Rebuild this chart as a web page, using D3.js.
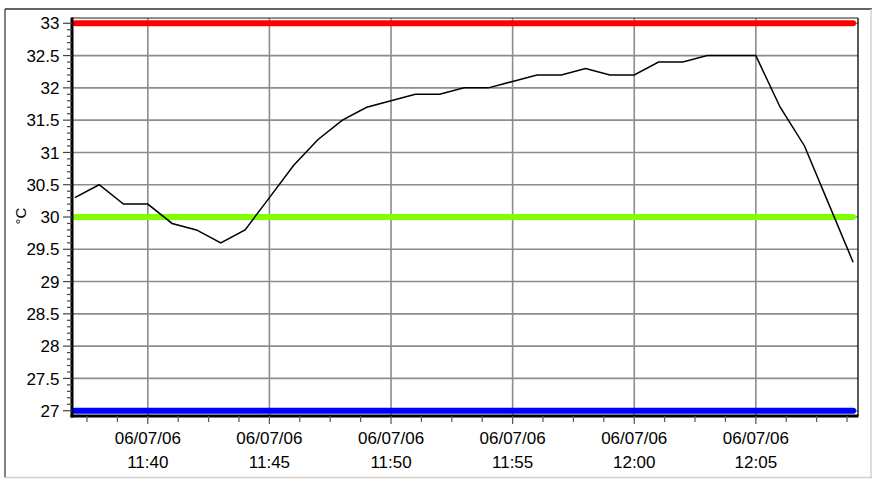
<!DOCTYPE html>
<html><head><meta charset="utf-8">
<script src="https://cdn.jsdelivr.net/npm/d3@7"></script>
<style>html,body{margin:0;padding:0;background:#fff;} svg{display:block;}</style>
</head><body><svg id="chart" width="875" height="479"></svg>
<script>
// ---------- data ----------
const times = ["11:37","11:38","11:39","11:40","11:41","11:42","11:43","11:44","11:45","11:46",
  "11:47","11:48","11:49","11:50","11:51","11:52","11:53","11:54","11:55","11:56",
  "11:57","11:58","11:59","12:00","12:01","12:02","12:03","12:04","12:05","12:06",
  "12:07","12:08","12:09"];
const temps = [30.3,30.5,30.2,30.2,29.9,29.8,29.6,29.8,30.3,30.8,
  31.2,31.5,31.7,31.8,31.9,31.9,32.0,32.0,32.1,32.2,
  32.2,32.3,32.2,32.2,32.4,32.4,32.5,32.5,32.5,31.7,
  31.1,30.2,29.3];
const limitValues = [33, 30, 27];
const yTickValues = [27, 27.5, 28, 28.5, 29, 29.5, 30, 30.5, 31, 31.5, 32, 32.5, 33];
const yTickLabels = ["27","27.5","28","28.5","29","29.5","30","30.5","31","31.5","32","32.5","33"];
const xTickTimes = ["11:40","11:45","11:50","11:55","12:00","12:05"];
const xTickDate = "06/07/06";
const yLabel = "°C";
const xDomainTimes = ["11:36:53","12:09:12"];
const yDomain = [26.918, 33.082];

// ---------- layout ----------
const svg = d3.select("#chart");
const W = 875, H = 479;
const plot = {left: 72, right: 858, top: 18, bottom: 416};
const font = "'Liberation Sans', Arial, Helvetica, sans-serif";

const parseHMS = d3.timeParse("%H:%M:%S");
const parseHM = d3.timeParse("%H:%M");
const parseT = s => (s.length > 5 ? parseHMS(s) : parseHM(s));

const x = d3.scaleTime().domain(xDomainTimes.map(parseT)).range([plot.left, plot.right]);
const y = d3.scaleLinear().domain(yDomain).range([plot.bottom, plot.top]);

svg.append("rect").attr("width", W).attr("height", H).attr("fill", "#fff");

// outer frame
svg.append("line").attr("x1", 5).attr("x2", 872).attr("y1", 9).attr("y2", 9).attr("stroke", "#303030").attr("stroke-width", 1.5);
svg.append("line").attr("x1", 5).attr("x2", 5).attr("y1", 9).attr("y2", 477.5).attr("stroke", "#303030").attr("stroke-width", 1.2);
svg.append("line").attr("x1", 5).attr("x2", 872).attr("y1", 477.5).attr("y2", 477.5).attr("stroke", "#d4d0c8").attr("stroke-width", 1.5);
svg.append("line").attr("x1", 871).attr("x2", 871).attr("y1", 9).attr("y2", 477.5).attr("stroke", "#d4d0c8").attr("stroke-width", 1.5);

// grid
const gGrid = svg.append("g");
gGrid.selectAll("line.h").data(yTickValues).join("line")
  .attr("x1", plot.left).attr("x2", plot.right)
  .attr("y1", d => y(d)).attr("y2", d => y(d))
  .attr("stroke", "#8c8c8c").attr("stroke-width", 1.6);
gGrid.selectAll("line.v").data(xTickTimes.map(parseT)).join("line")
  .attr("x1", d => x(d)).attr("x2", d => x(d))
  .attr("y1", plot.top).attr("y2", plot.bottom)
  .attr("stroke", "#8c8c8c").attr("stroke-width", 1.6);

// plot border (top/right thin)
svg.append("line").attr("x1", plot.left).attr("x2", plot.right).attr("y1", plot.top).attr("y2", plot.top).attr("stroke", "#222").attr("stroke-width", 1.2);
svg.append("line").attr("x1", plot.right).attr("x2", plot.right).attr("y1", plot.top).attr("y2", plot.bottom).attr("stroke", "#000").attr("stroke-width", 1.3);

// limit lines
const limitColors = ["#ff0000", "#80ff00", "#0000ff"];
const tExtent = d3.extent(times.map(parseT));
svg.append("g").selectAll("line").data(limitValues).join("line")
  .attr("x1", x(tExtent[0])).attr("x2", x(tExtent[1]))
  .attr("y1", d => y(d)).attr("y2", d => y(d))
  .attr("stroke", (d, i) => limitColors[i]).attr("stroke-width", 6)
  .attr("stroke-linecap", "round");

// data line
const pts = times.map((t, i) => [parseT(t), temps[i]]);
svg.append("path").datum(pts)
  .attr("fill", "none").attr("stroke", "#000").attr("stroke-width", 1.5)
  .attr("stroke-linejoin", "miter")
  .attr("d", d3.line().x(d => x(d[0])).y(d => y(d[1])));

// axes (thick left and bottom)
svg.append("line").attr("x1", plot.left).attr("x2", plot.left).attr("y1", plot.top - 0.5).attr("y2", plot.bottom + 1.5)
  .attr("stroke", "#000").attr("stroke-width", 3);
svg.append("line").attr("x1", plot.left - 1.5).attr("x2", plot.right + 0.5).attr("y1", plot.bottom).attr("y2", plot.bottom)
  .attr("stroke", "#000").attr("stroke-width", 3);

// y ticks
const yMinor = d3.range(270, 331, 1).map(v => v / 10).filter(v => !yTickValues.includes(v));
svg.append("g").selectAll("line").data(yMinor).join("line")
  .attr("x1", plot.left - 5).attr("x2", plot.left).attr("y1", d => y(d)).attr("y2", d => y(d))
  .attr("stroke", "#444").attr("stroke-width", 1.2);
svg.append("g").selectAll("line").data(yTickValues).join("line")
  .attr("x1", plot.left - 9).attr("x2", plot.left).attr("y1", d => y(d)).attr("y2", d => y(d))
  .attr("stroke", "#444").attr("stroke-width", 1.2);
svg.append("g").selectAll("text").data(yTickValues).join("text")
  .attr("x", 59.5).attr("y", d => y(d)).attr("dy", "0.36em")
  .attr("text-anchor", "end").attr("font-family", font).attr("font-size", 17).attr("fill", "#000")
  .text((d, i) => yTickLabels[i]);

// x ticks
const t0 = parseT(xTickTimes[0]);
const [d0, d1] = x.domain();
const step = 75 * 1000;
const xMinor = [];
for (let t = +t0 - Math.floor((+t0 - +d0) / step) * step; t <= +d1; t += step) {
  if ((t - +t0) % (4 * step) !== 0) xMinor.push(new Date(t));
}
svg.append("g").selectAll("line").data(xMinor).join("line")
  .attr("x1", d => x(d)).attr("x2", d => x(d)).attr("y1", plot.bottom).attr("y2", plot.bottom + 6)
  .attr("stroke", "#555").attr("stroke-width", 1.2);
svg.append("g").selectAll("line").data(xTickTimes.map(parseT)).join("line")
  .attr("x1", d => x(d)).attr("x2", d => x(d)).attr("y1", plot.bottom).attr("y2", plot.bottom + 8)
  .attr("stroke", "#555").attr("stroke-width", 1.2);
const xl = svg.append("g").selectAll("g").data(xTickTimes).join("g")
  .attr("transform", d => `translate(${x(parseT(d))},0)`);
xl.append("text").attr("y", 444).attr("text-anchor", "middle")
  .attr("font-family", font).attr("font-size", 17).attr("fill", "#000").text(xTickDate);
xl.append("text").attr("y", 467.5).attr("text-anchor", "middle")
  .attr("font-family", font).attr("font-size", 17).attr("fill", "#000").text(d => d);

// y label
svg.append("text").attr("transform", "translate(26,216) rotate(-90)")
  .attr("text-anchor", "middle").attr("font-family", font).attr("font-size", 15).attr("fill", "#000")
  .text(yLabel);
</script>
</body></html>
